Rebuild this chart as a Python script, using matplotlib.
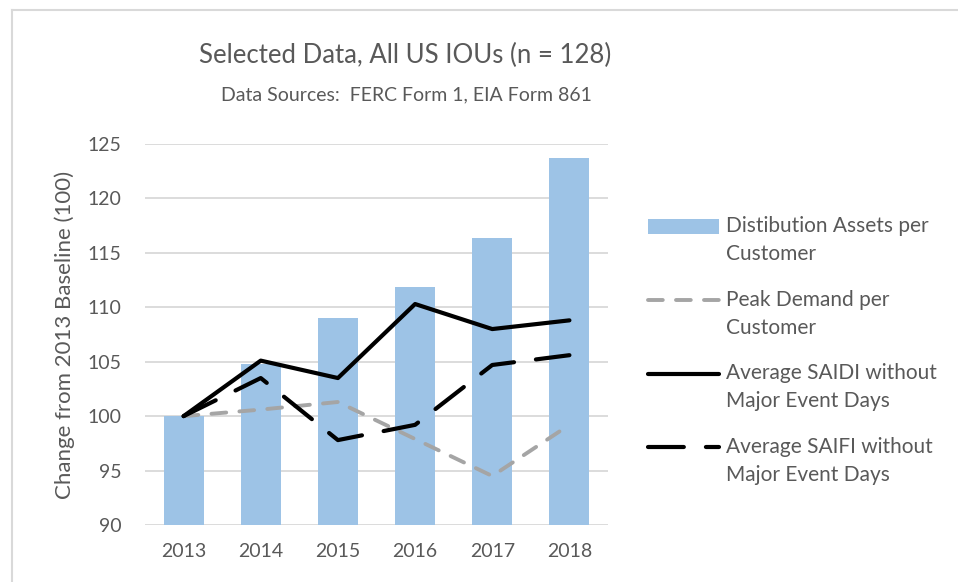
import numpy as np
import matplotlib.pyplot as plt
from matplotlib.lines import Line2D
from matplotlib.legend_handler import HandlerLine2D, HandlerPatch
from matplotlib.patches import Rectangle

years = ['2013', '2014', '2015', '2016', '2017', '2018']
assets = [100.0, 104.8, 109.0, 111.9, 116.4, 123.7]
peak = [100.0, 100.6, 101.3, 97.9, 94.5, 99.2]
saidi = [100.0, 105.1, 103.5, 110.3, 108.0, 108.8]
saifi = [100.0, 103.5, 97.8, 99.2, 104.7, 105.6]

plt.rcParams['font.family'] = ['Lato', 'DejaVu Sans']
txt = '#595959'
W, H = 958, 582
SHIFT = 10.3  # points: put legend keys level with first text line


class UpLine(HandlerLine2D):
    def create_artists(self, legend, orig, xdescent, ydescent, width, height, fontsize, trans):
        return super().create_artists(legend, orig, xdescent, ydescent - 2 * SHIFT,
                                      width, height, fontsize, trans)


class UpPatch(HandlerPatch):
    def create_artists(self, legend, orig, xdescent, ydescent, width, height, fontsize, trans):
        return super().create_artists(legend, orig, xdescent, ydescent - SHIFT,
                                      width, height, fontsize, trans)


fig = plt.figure(figsize=(9.58, 5.82), dpi=100)
ax = fig.add_axes([145 / W, 57 / H, 463 / W, 381 / H])

x = np.arange(len(years))
bars = ax.bar(x, assets, width=0.52, color='#9dc3e6', zorder=2)
l_peak, = ax.plot(x, peak, color='#a5a5a5', lw=2.8, dashes=(3.8, 3.4),
                  dash_capstyle='round', zorder=3)
l_saidi, = ax.plot(x, saidi, color='black', lw=3, solid_capstyle='round',
                   solid_joinstyle='round', zorder=4)
l_saifi, = ax.plot(x, saifi, color='black', lw=3, dashes=(8.6, 5.3),
                   dash_capstyle='round', zorder=4)

ax.set_ylim(90, 125)
ax.set_xlim(-0.5, 5.5)
ax.set_yticks(range(90, 126, 5))
ax.set_xticks(x)
ax.set_xticklabels(years)
ax.yaxis.grid(True, color='#d9d9d9', lw=1.3, zorder=0)
ax.set_axisbelow(True)
for s in ax.spines.values():
    s.set_visible(False)
ax.tick_params(length=0, labelsize=14, colors=txt)
ax.tick_params(axis='y', pad=17)
ax.tick_params(axis='x', pad=13)
ax.set_ylabel('Change from 2013 Baseline (100)', fontsize=16, color=txt, labelpad=9)

fig.text(405 / W, 1 - 55 / H, 'Selected Data, All US IOUs (n = 128)', ha='center',
         va='center', fontsize=18.5, color=txt)
fig.text(406 / W, 1 - 95 / H, 'Data Sources:  FERC Form 1, EIA Form 861',
         ha='center', va='center', fontsize=14, color=txt)

handles = [bars.patches[0], l_peak, l_saidi, l_saifi]
labels = ['Distibution Assets per\nCustomer', 'Peak Demand per\nCustomer',
          'Average SAIDI without\nMajor Event Days',
          'Average SAIFI without\nMajor Event Days']
leg = fig.legend(handles, labels, loc='upper left',
                 bbox_to_anchor=(640 / W, 1 - 208 / H),
                 frameon=False, fontsize=15, handlelength=3.4, handletextpad=0.35,
                 labelspacing=1.22, labelcolor=txt, borderaxespad=0,
                 handler_map={Line2D: UpLine(), Rectangle: UpPatch()})
for t in leg.get_texts():
    t.set_linespacing(1.5)

fig.add_artist(Line2D([12 / W, 12 / W], [0, 1 - 10 / H], color='#d9d9d9', lw=1.5))
fig.add_artist(Line2D([12 / W, 957 / W], [1 - 10 / H, 1 - 10 / H], color='#d9d9d9', lw=1.5))

fig.savefig('out.png', dpi=100)
